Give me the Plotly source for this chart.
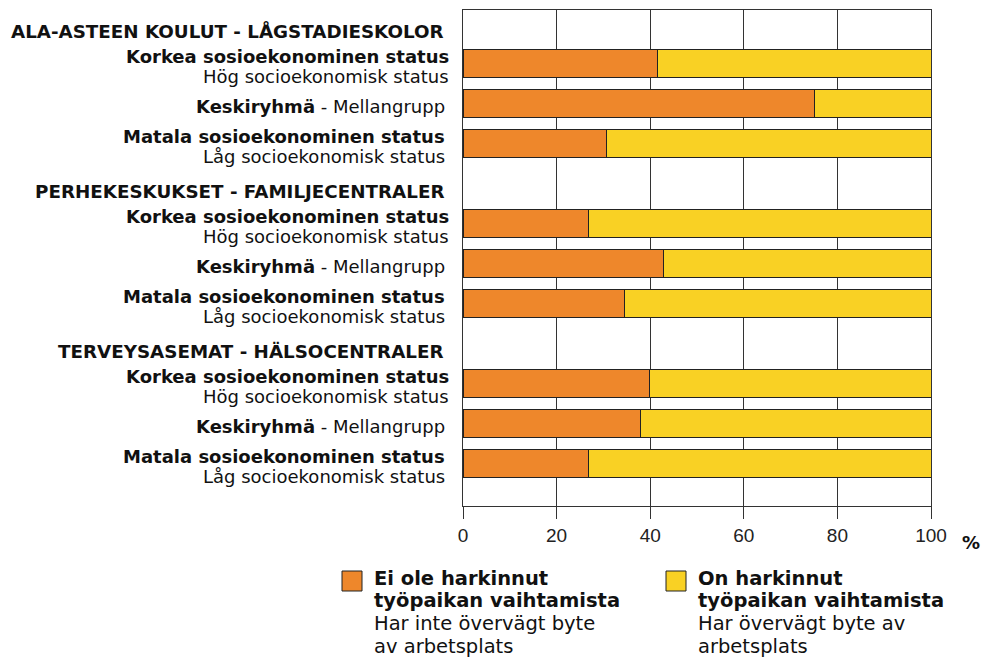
import plotly.graph_objects as go

# ---------------- data ----------------
group_titles = [
    "ALA-ASTEEN KOULUT - LÅGSTADIESKOLOR",
    "PERHEKESKUKSET - FAMILJECENTRALER",
    "TERVEYSASEMAT - HÄLSOCENTRALER",
]
row_labels_fi = ["Korkea sosioekonominen status", "Keskiryhmä", "Matala sosioekonominen status"]
row_labels_sv = ["Hög socioekonomisk status", "Mellangrupp", "Låg socioekonomisk status"]

# share (%) per row, groups in order above, rows Korkea / Keski / Matala
not_considered = [41.5, 75.0, 30.7, 26.8, 42.8, 34.5, 39.8, 38.0, 26.8]
considered = [58.5, 25.0, 69.3, 73.2, 57.2, 65.5, 60.2, 62.0, 73.2]

x_ticks = [0, 20, 40, 60, 80, 100]

legend_not_fi = ["Ei ole harkinnut", "työpaikan vaihtamista"]
legend_not_sv = ["Har inte övervägt byte", "av arbetsplats"]
legend_yes_fi = ["On harkinnut", "työpaikan vaihtamista"]
legend_yes_sv = ["Har övervägt byte av", "arbetsplats"]

ORANGE = "#EE872B"
YELLOW = "#F9D124"
EDGE = "#222222"
FONT = "DejaVu Sans"

# ---------------- layout helpers ----------------
W, H = 982, 658
L, R, T, B = 463, 931, 10, 506


def px_x(px):
    return (px - L) / (R - L)


def px_y(py):
    return (B - py) / (B - T)


positions = [g * 4 + i + 1 for g in range(len(group_titles)) for i in range(len(row_labels_fi))]

fig = go.Figure()
fig.add_trace(go.Bar(
    orientation="h", x=not_considered, y=positions, width=0.7,
    marker=dict(color=ORANGE, line=dict(color=EDGE, width=1)),
    name=" ".join(legend_not_fi), showlegend=False,
))
fig.add_trace(go.Bar(
    orientation="h", x=considered, y=positions, width=0.7,
    marker=dict(color=YELLOW, line=dict(color=EDGE, width=1)),
    name=" ".join(legend_yes_fi), showlegend=False,
))

annotations = []
# row labels
right_edges = [451, 447, 446.5]
for g, title in enumerate(group_titles):
    first = g * 4 + 1
    annotations.append(dict(
        text=f"<b>{title}</b>", xref="paper", yref="y", x=0, y=first,
        xanchor="right", yanchor="middle", xshift=445.5 - L, yshift=32.5,
        showarrow=False, font=dict(family=FONT, size=18.3, color="#111"),
    ))
    for i in range(len(row_labels_fi)):
        p = g * 4 + i + 1
        xs = right_edges[i] - L
        if i == 1:
            annotations.append(dict(
                text=f"<b>{row_labels_fi[i]}</b> - {row_labels_sv[i]}", xref="paper", yref="y",
                x=0, y=p, xanchor="right", yanchor="middle", xshift=xs, yshift=-3,
                showarrow=False, font=dict(family=FONT, size=18, color="#111"),
            ))
        else:
            annotations.append(dict(
                text=f"<b>{row_labels_fi[i]}</b>", xref="paper", yref="y",
                x=0, y=p, xanchor="right", yanchor="middle", xshift=xs, yshift=7,
                showarrow=False, font=dict(family=FONT, size=18, color="#111"),
            ))
            annotations.append(dict(
                text=row_labels_sv[i], xref="paper", yref="y",
                x=0, y=p, xanchor="right", yanchor="middle", xshift=xs, yshift=-13,
                showarrow=False, font=dict(family=FONT, size=18, color="#111"),
            ))

# percent sign
annotations.append(dict(
    text="<b>%</b>", xref="paper", yref="paper", x=px_x(971), y=px_y(542),
    xanchor="center", yanchor="middle", showarrow=False,
    font=dict(family=FONT, size=18, color="#111"),
))

# legend (drawn manually)
shapes = []
legend_items = [
    (ORANGE, 342, legend_not_fi, legend_not_sv),
    (YELLOW, 666, legend_yes_fi, legend_yes_sv),
]
line_centers = [578, 600.8, 623.6, 646.0]
for color, bx, fi_lines, sv_lines in legend_items:
    shapes.append(dict(
        type="rect", xref="paper", yref="paper",
        x0=px_x(bx), x1=px_x(bx + 20), y0=px_y(591), y1=px_y(571),
        fillcolor=color, line=dict(color=EDGE, width=1), layer="above",
    ))
    lines = [f"<b>{t}</b>" for t in fi_lines] + list(sv_lines)
    for k, t in enumerate(lines):
        annotations.append(dict(
            text=t, xref="paper", yref="paper", x=px_x(bx + 31), y=px_y(line_centers[k]),
            xanchor="left", yanchor="middle", showarrow=False, borderpad=0,
            font=dict(family=FONT, size=19.5, color="#111"),
        ))

fig.update_layout(
    width=W, height=H,
    margin=dict(l=L, r=W - R, t=T, b=H - B, pad=0),
    barmode="stack",
    plot_bgcolor="white", paper_bgcolor="white",
    showlegend=False,
    annotations=annotations,
    shapes=shapes,
    xaxis=dict(
        range=[0, 100], tickvals=x_ticks, ticktext=[str(v) for v in x_ticks],
        ticks="outside", ticklen=12, tickcolor="#333", tickwidth=1,
        showgrid=True, gridcolor="#333", gridwidth=1,
        showline=True, linecolor="#333", linewidth=1, mirror=True,
        zeroline=False,
        tickfont=dict(family="Liberation Sans", size=19, color="#222"),
    ),
    yaxis=dict(
        range=[12.05, -0.33], showticklabels=False, ticks="",
        showgrid=False, zeroline=False,
        showline=True, linecolor="#333", linewidth=1, mirror=True,
    ),
)

fig.write_html("out.html", config={"displayModeBar": False})

# remove the default page margin so the figure fills the window exactly
with open("out.html", "r", encoding="utf-8") as f:
    html = f.read()
html = html.replace("<body>", '<body style="margin:0;padding:0;overflow:hidden">', 1)
with open("out.html", "w", encoding="utf-8") as f:
    f.write(html)
